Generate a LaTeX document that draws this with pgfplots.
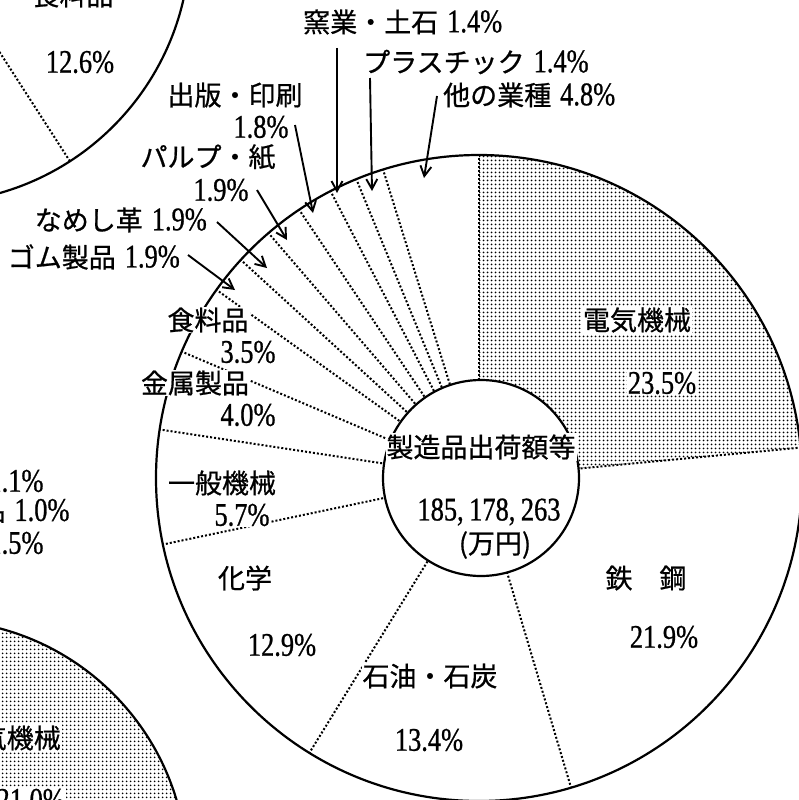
\documentclass[border=0pt]{standalone}
\usepackage{pgfplots}
\pgfplotsset{compat=1.18}
\usepackage{fontspec}
\setmainfont{Liberation Serif}
\newfontfamily\jpfont[FakeBold=0.7]{Noto Sans CJK JP}
\newfontfamily\numfont[FakeStretch=0.8,FakeBold=0.8]{Liberation Serif}
\usetikzlibrary{arrows.meta,patterns.meta}

\newcommand\jtxt[1]{{\jpfont\fontsize{27}{29}\selectfont #1}}
\newcommand\ntxt[1]{{\numfont\fontsize{33}{35}\selectfont #1}}
\newcommand\jn[2]{\jtxt{#1}\hspace{9pt}\ntxt{#2}}

\begin{document}
\begin{tikzpicture}[
  bnd/.style={line width=2pt, dash pattern=on 2pt off 2pt},
  arr/.style={line width=1.9pt, -{Straight Barb[length=10pt,width=11pt,line width=1.9pt]}},
  lbl/.style={fill=white, inner sep=1pt},
  dotfill/.style={pattern={Dots[distance=4pt,radius=1.2pt]}}]

% main pie: shares (%) clockwise from 12 o'clock
\pgfmathsetmacro\eA{90-3.6*23.5}

\begin{axis}[x=1pt, y=1pt, xmin=0, xmax=799, ymin=0, ymax=800,
  y dir=reverse, hide axis, enlargelimits=false,
  at={(0,0)}, anchor=south west]

% neighbouring pies, cut by the frame
\fill[dotfill] (axis cs:-65,872) circle[radius=252pt];
\draw[line width=2.2pt] (axis cs:-65,872) circle[radius=252pt];
\draw[line width=2.2pt] (axis cs:-72,-59) circle[radius=262pt];
\draw[bnd] (axis cs:-72,-59) ++(-57.2:100pt) -- ++(-57.2:162pt);

% electrical machinery sector
\fill[dotfill] (axis cs:479,478) -- ++(90:323pt)
  arc[start angle=90, end angle=\eA, radius=323pt] -- cycle;

% slice boundaries
\def\cum{0}
\pgfplotsforeachungrouped \p in {23.5,21.9,13.4,12.9,5.7,4.0,3.5,1.9,1.9,1.9,1.8,1.4,1.4,4.8}{%
  \pgfmathsetmacro\ang{90-3.6*\cum}%
  \edef\temp{\noexpand\draw[bnd] (axis cs:479,478) ++(\ang:98pt) -- ++(\ang:225pt);}%
  \temp
  \pgfmathsetmacro\cum{\cum+\p}%
}

\draw[line width=2.2pt] (axis cs:479,478) circle[radius=323pt];
\draw[line width=2.2pt, fill=white] (axis cs:481,478) circle[radius=98pt];

% arrows to the small slices
\draw[arr] (axis cs:337,48) -- (axis cs:337,193);
\draw[arr] (axis cs:370,78) -- (axis cs:372,191);
\draw[arr] (axis cs:437,96) -- (axis cs:424,178);
\draw[arr] (axis cs:295,125) -- (axis cs:313,213);
\draw[arr] (axis cs:257,190) -- (axis cs:287,240);
\draw[arr] (axis cs:217,222) -- (axis cs:267,268);
\draw[arr] (axis cs:188,255) -- (axis cs:235,290);

% labels of the main pie
\node[lbl] at (axis cs:637,320) {\jtxt{電気機械}};
\node[lbl] at (axis cs:662,383) {\ntxt{23.5\%}};
\node[lbl] at (axis cs:646,578) {\jtxt{鉄　鋼}};
\node[lbl] at (axis cs:664,637) {\ntxt{21.9\%}};
\node[lbl] at (axis cs:430,676) {\jtxt{石油・石炭}};
\node[lbl] at (axis cs:429,740) {\ntxt{13.4\%}};
\node[lbl] at (axis cs:245,578) {\jtxt{化学}};
\node[lbl] at (axis cs:282,645) {\ntxt{12.9\%}};
\node[lbl] at (axis cs:222,483) {\jtxt{一般機械}};
\node[lbl] at (axis cs:242,515) {\ntxt{5.7\%}};
\node[lbl] at (axis cs:195,383) {\jtxt{金属製品}};
\node[lbl] at (axis cs:248,415) {\ntxt{4.0\%}};
\node[lbl] at (axis cs:208,320) {\jtxt{食料品}};
\node[lbl] at (axis cs:248,352) {\ntxt{3.5\%}};
\node[lbl, anchor=east] at (axis cs:181,257) {\jn{ゴム製品}{1.9\%}};
\node[lbl, anchor=east] at (axis cs:208,220) {\jn{なめし革}{1.9\%}};
\node[lbl] at (axis cs:208,157) {\jtxt{パルプ・紙}};
\node[lbl] at (axis cs:221,190) {\ntxt{1.9\%}};
\node[lbl] at (axis cs:235,95) {\jtxt{出版・印刷}};
\node[lbl] at (axis cs:261,127) {\ntxt{1.8\%}};
\node[lbl, anchor=west] at (axis cs:302,22) {\jn{窯業・土石}{1.4\%}};
\node[lbl, anchor=west] at (axis cs:362,62) {\jn{プラスチック}{1.4\%}};
\node[lbl, anchor=west] at (axis cs:442,95) {\jn{他の業種}{4.8\%}};

\node[lbl] at (axis cs:481,447) {\jtxt{製造品出荷額等}};
\node at (axis cs:489,512) {\ntxt{185,\,178,\,263}};
\node at (axis cs:495,545) {\jtxt{(万円)}};

% labels of the neighbouring pies
\node[lbl] at (axis cs:73,-5) {\jtxt{食料品}};
\node[lbl] at (axis cs:80,62) {\ntxt{12.6\%}};
\node[anchor=east] at (axis cs:47,481) {\ntxt{1.1\%}};
\node[anchor=east] at (axis cs:73,511) {\jn{品}{1.0\%}};
\node[anchor=east] at (axis cs:47,543) {\ntxt{1.5\%}};
\node[lbl, anchor=east] at (axis cs:62,738) {\jtxt{電気機械}};
\node[lbl, anchor=east] at (axis cs:66,800) {\ntxt{21.0\%}};
\end{axis}
\pgfresetboundingbox
\path[use as bounding box] (0,0) rectangle (799pt,800pt);
\end{tikzpicture}
\end{document}
